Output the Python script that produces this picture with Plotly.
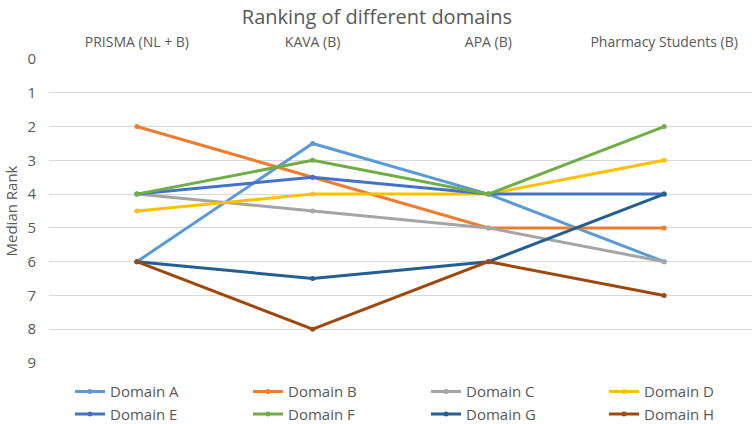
import plotly.graph_objects as go

categories = ["PRISMA (NL + B)", "KAVA (B)", "APA (B)", "Pharmacy Students (B)"]
series_names = ["Domain A", "Domain B", "Domain C", "Domain D",
                "Domain E", "Domain F", "Domain G", "Domain H"]
domain_a = [6, 2.5, 4, 6]
domain_b = [2, 3.5, 5, 5]
domain_c = [4, 4.5, 5, 6]
domain_d = [4.5, 4, 4, 3]
domain_e = [4, 3.5, 4, 4]
domain_f = [4, 3, 4, 2]
domain_g = [6, 6.5, 6, 4]
domain_h = [6, 8, 6, 7]
y_ticks = [0, 1, 2, 3, 4, 5, 6, 7, 8, 9]

series_values = [domain_a, domain_b, domain_c, domain_d,
                 domain_e, domain_f, domain_g, domain_h]
colors = ["#5B9BD5", "#ED7D31", "#A5A5A5", "#FFC000",
          "#4472C4", "#70AD47", "#255E91", "#9E480E"]

font_family = "Open Sans, Liberation Sans, sans-serif"
text_color = "#595959"

fig = go.Figure()
for name, vals, col in zip(series_names, series_values, colors):
    fig.add_trace(go.Scatter(
        x=categories, y=vals, name=name, mode="lines+markers",
        line=dict(color=col, width=3),
        marker=dict(color=col, size=5),
    ))

fig.update_layout(
    width=754, height=424,
    margin=dict(l=49, r=2, t=59, b=61, autoexpand=False),
    paper_bgcolor="white", plot_bgcolor="white",
    font=dict(family=font_family, color=text_color, size=13),
    title=dict(text="Ranking of different domains", x=0.5, xanchor="center",
               y=0.976, yanchor="top", yref="container",
               font=dict(size=20, color=text_color, family=font_family)),
    showlegend=True,
    legend=dict(orientation="h", x=-0.001, xanchor="left", y=-0.04, yanchor="top",
                entrywidth=133, entrywidthmode="pixels",
                title=dict(text="&nbsp;" * 3, side="left",
                           font=dict(size=15, color=text_color)),
                font=dict(size=15, color=text_color, family=font_family),
                itemwidth=30, traceorder="normal"),
)
fig.update_xaxes(type="category", side="top", range=[-0.5, 3.5],
                 showgrid=False, showline=False, ticks="", zeroline=False,
                 tickfont=dict(size=14, color=text_color), ticklabelstandoff=8)
fig.update_yaxes(range=[9, 0], tickvals=y_ticks, showgrid=True,
                 gridcolor="#D9D9D9", gridwidth=1, zeroline=False, showline=False,
                 ticks="", tickfont=dict(size=15, color=text_color),
                 ticklabelstandoff=12,
                 title=dict(text="Median Rank", font=dict(size=15, color=text_color),
                            standoff=6))

fig.write_html("out.html", config={"displayModeBar": False},
               post_script="document.body.style.margin='0px';")
